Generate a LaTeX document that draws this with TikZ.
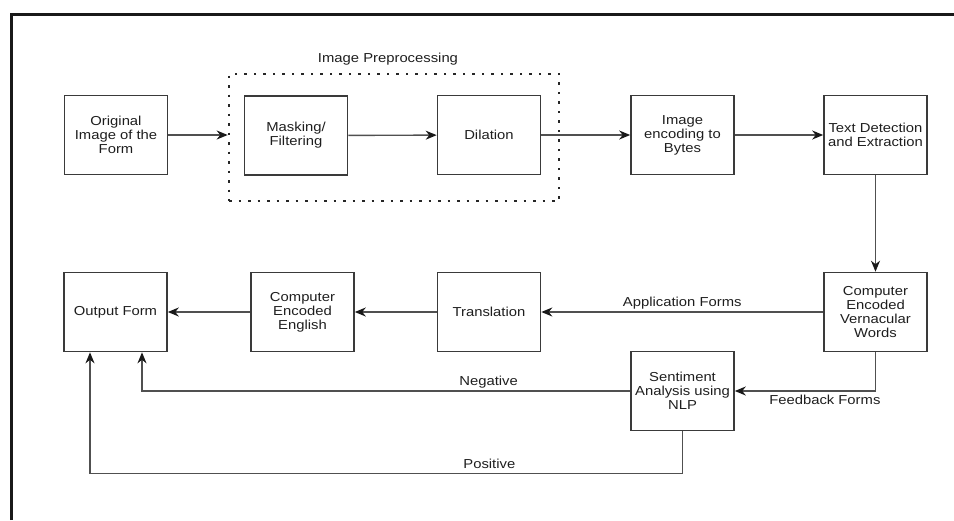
\documentclass[tikz,border=0pt]{standalone}
\usepackage{fontspec}
\setmainfont{Liberation Sans}[FakeStretch=1.14]
\usetikzlibrary{arrows.meta,fit}
\definecolor{edgec}{HTML}{505050}
\definecolor{boxc}{HTML}{3A3A3A}
\definecolor{txt}{HTML}{1E1E1E}
\tikzset{
  procbox/.style={draw=boxc, line width=1.6pt, minimum width=103pt, minimum height=79pt,
    align=center, inner sep=1pt, text=txt, font=\fontsize{13}{14}\selectfont},
  flow/.style={draw=edgec, line width=1.4pt,
    -{Stealth[length=11pt,width=9pt,inset=3.5pt,color=black!90]}},
  lbl/.style={text=txt, font=\fontsize{13}{14}\selectfont, inner sep=2pt},
  groupbox/.style={draw=black!85, line width=2.6pt, dash pattern=on 2.5pt off 7pt, inner sep=0pt}
}
\begin{document}
\begin{tikzpicture}[x=1pt,y=-1pt]
\useasboundingbox (0,0) rectangle (954,520);
% outer frame
\draw[line width=3pt, black!90] (11,520) -- (11,14) -- (954,14);

% top row
\node[procbox] (orig)  at (116,135)   {Original\\Image of the\\Form};
\node[procbox] (mask)  at (296,135.5) {Masking/\\Filtering};
\node[procbox] (dil)   at (489,135)   {Dilation};
\node[procbox] (enc)   at (682.5,135) {Image\\encoding to\\Bytes};
\node[procbox] (tde)   at (875.5,135) {Text Detection\\and Extraction};

% preprocessing group
\coordinate (preA) at (229,74);
\coordinate (preB) at (559,201);
\node[groupbox, fit=(preA)(preB)] (pre) {};
\node[lbl] (pretitle) at (388,59) {Image Preprocessing};

% lower rows
\node[procbox] (cev)   at (875.5,312)   {Computer\\Encoded\\Vernacular\\Words};
\node[procbox] (trans) at (489,312)     {Translation};
\node[procbox] (cee)   at (302.5,312)   {Computer\\Encoded\\English};
\node[procbox] (out)   at (115.5,312)   {Output Form};
\node[procbox] (sent)  at (682.5,391)   {Sentiment\\Analysis using\\NLP};

% connectors
\draw[flow] (orig.east) -- (orig.east -| pre.west);
\draw[flow] (mask) -- (dil);
\draw[flow] (dil) -- (enc);
\draw[flow] (enc) -- (tde);
\draw[flow] (tde) -- (cev);
\draw[flow] (cev) -- node[lbl, above, pos=0.5] {Application Forms} (trans);
\draw[flow] (trans) -- (cee);
\draw[flow] (cee) -- (out);
\draw[flow] (cev.south) |- node[lbl, below, pos=0.68, yshift=-1pt] {Feedback Forms} (sent.east);
\draw[flow] (sent.west) -| node[lbl, above, pos=0.145] {Negative} ([xshift=26.5pt]out.south);
\draw[flow] (sent.south) -- ++(0,42) -| node[lbl, above, pos=0.163, yshift=2pt] {Positive} ([xshift=-25.5pt]out.south);
\end{tikzpicture}
\end{document}
